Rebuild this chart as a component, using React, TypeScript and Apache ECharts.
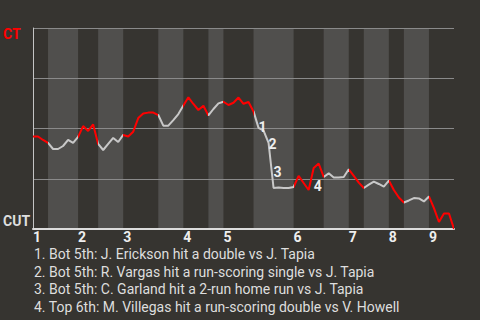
import React, { useEffect, useRef } from "react";
import * as echarts from "echarts";

// CT win probability (%) after each plate appearance (index = plate appearance number)
const ctWinPct = [
  46.0, 46.0, 44.3, 42.8,
  39.8, 39.8, 41.3, 44.3, 42.8, 45.8,
  51.2, 48.8, 52.0, 42.3,
  39.3, 42.3, 45.3, 43.3, 46.8,
  46.0, 48.4, 55.2, 57.5, 57.9, 57.9, 56.7,
  51.4, 51.4, 54.2, 57.2, 61.4,
  65.5, 62.2, 59.2, 61.3, 56.5,
  59.7, 62.5, 63.3,
  61.7, 62.8, 65.4, 62.3, 63.2, 58.5,
  50.3, 49.0, 42.8, 20.4, 20.6, 20.4, 20.4, 20.9,
  26.4, 22.9, 19.4, 30.3, 32.6, 25.9,
  27.7, 25.6, 25.6, 25.9, 29.7,
  26.4, 23.1, 20.4,
  22.1, 23.6, 22.4, 21.1, 24.1,
  19.4, 15.7, 13.2,
  14.2, 15.4, 15.2, 13.7, 16.2,
  10.4, 3.5, 7.7, 7.7, 0,
];

// plate-appearance index where each half inning starts (top 1st, bot 1st, ...), last = end of game
const halfInningStarts = [0, 3, 9, 13, 18, 25, 30, 35, 38, 44, 52, 58, 63, 66, 71, 74, 79, 84];
const inningLabels = ["1", "2", "3", "4", "5", "6", "7", "8", "9"];
const inningStarts = [0, 9, 18, 30, 38, 52, 63, 71, 79];

const annotationIdx = [45, 47, 48, 56];
const annotationNums = ["1", "2", "3", "4"];

const playNotes = [
  "1. Bot 5th: J. Erickson hit a double vs J. Tapia",
  "2. Bot 5th: R. Vargas hit a run-scoring single vs J. Tapia",
  "3. Bot 5th: C. Garland hit a 2-run home run vs J. Tapia",
  "4. Top 6th: M. Villegas hit a run-scoring double vs V. Howell",
];

const teamTop = "CT";
const teamBottom = "CUT";

const RED = "#ff0000";
const GREY = "#c8c8c8";
const FONT = "Roboto";

export default function App() {
  const ref = useRef<HTMLDivElement>(null);

  useEffect(() => {
    document.body.style.margin = "0";
    const chart = echarts.init(ref.current!, null, { renderer: "svg" });
    const data = ctWinPct.map((v, i) => [i, v]);

    const bands: any[] = [];
    const pieces: any[] = [];
    for (let i = 0; i < halfInningStarts.length - 1; i++) {
      const a = halfInningStarts[i];
      const b = halfInningStarts[i + 1];
      if (i % 2 === 1) bands.push([{ xAxis: a }, { xAxis: b }]);
      const color = i % 2 === 0 ? RED : GREY;
      if (i === halfInningStarts.length - 2) pieces.push({ gte: a, lte: b, color });
      else pieces.push({ gte: a, lt: b, color });
    }

    const marks = annotationIdx.map((idx, k) => ({
      name: annotationNums[k],
      coord: [idx - 0.5, (ctWinPct[idx - 1] + ctWinPct[idx]) / 2],
    }));

    const gTexts: any[] = playNotes.map((t, k) => ({
      type: "text",
      left: 34,
      top: 247 + k * 17.7,
      style: { text: t, fill: "#dedede", font: `14px ${FONT}` },
    }));
    gTexts.push({
      type: "text",
      left: 3,
      top: 27,
      style: { text: teamTop, fill: RED, font: `bold 14px ${FONT}` },
    });
    gTexts.push({
      type: "text",
      left: 3,
      top: 214,
      style: { text: teamBottom, fill: "#dedede", font: `bold 14px ${FONT}` },
    });

    chart.setOption({
      animation: false,
      backgroundColor: "#363430",
      grid: { left: 33, top: 28, width: 421, height: 201 },
      xAxis: {
        type: "value",
        min: 0,
        max: 84,
        z: 2,
        splitLine: { show: false },
        axisTick: { show: false },
        axisLine: { show: true, lineStyle: { color: "#dcdcdc", width: 2 } },
        axisLabel: {
          customValues: inningStarts,
          formatter: (v: number) => inningLabels[inningStarts.indexOf(v)] ?? "",
          align: "left",
          margin: 1,
          color: "#eeeeee",
          fontWeight: "bold",
          fontSize: 14,
          fontFamily: FONT,
        },
      },
      yAxis: {
        type: "value",
        min: 0,
        max: 100,
        interval: 25,
        z: 2,
        axisLabel: { show: false },
        axisTick: { show: false },
        axisLine: { show: true, lineStyle: { color: "#c4c4c4", width: 1 } },
        splitLine: { show: true, lineStyle: { color: "#8a8a8a", width: 1 } },
      },
      visualMap: {
        show: false,
        type: "piecewise",
        dimension: 0,
        seriesIndex: 1,
        pieces,
      },
      graphic: gTexts,
      series: [
        {
          type: "line",
          z: 1,
          silent: true,
          data: [],
          markArea: {
            silent: true,
            itemStyle: { color: "#504f4d" },
            data: bands,
          },
        },
        {
          type: "line",
          z: 3,
          data,
          showSymbol: false,
          lineStyle: { width: 2 },
          markPoint: {
            symbol: "circle",
            symbolSize: 1,
            itemStyle: { color: "rgba(0,0,0,0)" },
            label: {
              show: true,
              position: "inside",
              offset: [6.5, 7],
              formatter: (p: any) => p.name,
              color: "#eeeeee",
              fontWeight: "bold",
              fontSize: 14,
              fontFamily: FONT,
            },
            data: marks,
          },
        },
      ],
    });

    return () => chart.dispose();
  }, []);

  return <div ref={ref} style={{ width: 480, height: 320 }} />;
}
